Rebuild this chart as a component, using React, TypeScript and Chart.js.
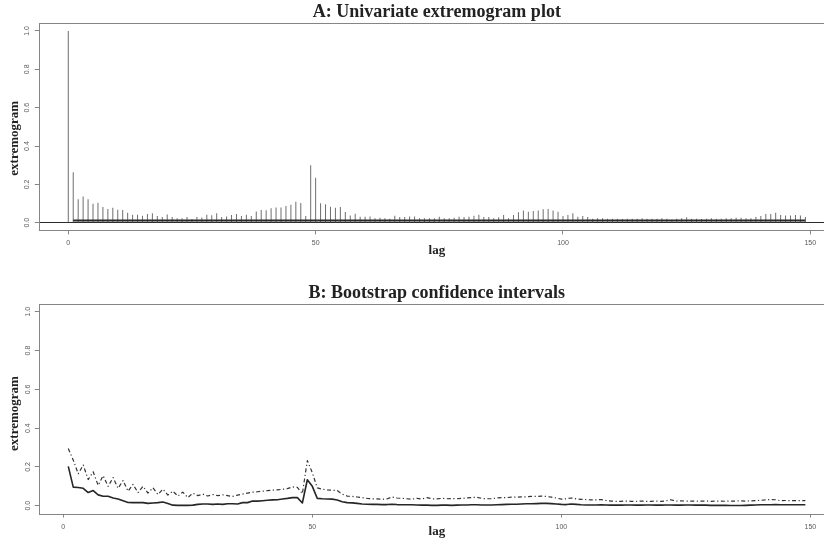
import { useEffect, useRef } from 'react';
import { Chart, registerables } from 'chart.js';

Chart.register(...registerables);

const SERIF = '"Liberation Serif", "Times New Roman", serif';
const SANS = '"Liberation Sans", Arial, sans-serif';

// Univariate extremogram estimates for lags 0..149
const EXTREMOGRAM = [
  1.0, 0.263, 0.122, 0.137, 0.122, 0.099, 0.104, 0.082, 0.071, 0.078,
  0.068, 0.066, 0.052, 0.042, 0.042, 0.037, 0.045, 0.049, 0.035, 0.030,
  0.043, 0.030, 0.023, 0.023, 0.030, 0.019, 0.030, 0.027, 0.041, 0.039,
  0.049, 0.030, 0.033, 0.040, 0.045, 0.035, 0.042, 0.035, 0.059, 0.066,
  0.065, 0.075, 0.079, 0.080, 0.087, 0.094, 0.110, 0.103, 0.035, 0.300,
  0.234, 0.101, 0.096, 0.083, 0.078, 0.082, 0.056, 0.038, 0.047, 0.031,
  0.031, 0.033, 0.024, 0.026, 0.024, 0.021, 0.037, 0.030, 0.030, 0.033,
  0.033, 0.023, 0.023, 0.024, 0.023, 0.031, 0.024, 0.023, 0.026, 0.031,
  0.030, 0.031, 0.037, 0.042, 0.030, 0.030, 0.023, 0.028, 0.040, 0.024,
  0.040, 0.054, 0.064, 0.057, 0.061, 0.064, 0.070, 0.071, 0.064, 0.057,
  0.035, 0.040, 0.050, 0.031, 0.035, 0.030, 0.021, 0.023, 0.023, 0.021,
  0.021, 0.021, 0.019, 0.021, 0.021, 0.021, 0.023, 0.021, 0.021, 0.021,
  0.023, 0.021, 0.016, 0.021, 0.023, 0.028, 0.021, 0.021, 0.019, 0.021,
  0.023, 0.021, 0.021, 0.023, 0.024, 0.026, 0.026, 0.024, 0.024, 0.030,
  0.035, 0.045, 0.045, 0.052, 0.040, 0.038, 0.038, 0.040, 0.038, 0.030,
];

// Permutation band level, drawn across lags 1..149
const BAND_LEVEL = 0.0115;
const BAND_LAGS = [1, 149];

// Bootstrap confidence interval bounds for lags 1..149
const CI_FIRST_LAG = 1;
const CI_LOWER = [
  0.203, 0.096, 0.094, 0.090, 0.068, 0.078, 0.056, 0.049, 0.049, 0.040,
  0.035, 0.026, 0.017, 0.016, 0.017, 0.016, 0.012, 0.014, 0.016, 0.019,
  0.012, 0.003, 0.002, 0.002, 0.002, 0.003, 0.007, 0.009, 0.009, 0.007,
  0.009, 0.007, 0.010, 0.010, 0.009, 0.016, 0.016, 0.024, 0.024, 0.026,
  0.028, 0.030, 0.031, 0.035, 0.038, 0.042, 0.042, 0.014, 0.134, 0.100,
  0.038, 0.036, 0.035, 0.034, 0.030, 0.021, 0.016, 0.015, 0.012, 0.009,
  0.008, 0.007, 0.007, 0.006, 0.006, 0.008, 0.006, 0.005, 0.005, 0.005,
  0.004, 0.003, 0.003, 0.002, 0.002, 0.003, 0.003, 0.002, 0.003, 0.004,
  0.004, 0.005, 0.005, 0.004, 0.004, 0.004, 0.005, 0.006, 0.007, 0.008,
  0.008, 0.009, 0.010, 0.010, 0.011, 0.012, 0.012, 0.011, 0.009, 0.007,
  0.006, 0.009, 0.007, 0.005, 0.004, 0.004, 0.004, 0.005, 0.004, 0.003,
  0.003, 0.003, 0.004, 0.004, 0.003, 0.003, 0.004, 0.004, 0.003, 0.003,
  0.004, 0.004, 0.003, 0.003, 0.004, 0.004, 0.003, 0.003, 0.003, 0.002,
  0.002, 0.002, 0.002, 0.001, 0.001, 0.001, 0.002, 0.003, 0.004, 0.005,
  0.005, 0.005, 0.006, 0.005, 0.005, 0.005, 0.005, 0.005, 0.005,
];
const CI_UPPER = [
  0.295, 0.235, 0.165, 0.210, 0.135, 0.175, 0.105, 0.155, 0.100, 0.145,
  0.090, 0.130, 0.075, 0.110, 0.068, 0.100, 0.065, 0.093, 0.058, 0.085,
  0.055, 0.075, 0.050, 0.070, 0.042, 0.065, 0.052, 0.060, 0.050, 0.058,
  0.052, 0.056, 0.052, 0.048, 0.055, 0.060, 0.065, 0.070, 0.072, 0.075,
  0.078, 0.080, 0.082, 0.085, 0.088, 0.097, 0.095, 0.062, 0.233, 0.170,
  0.092, 0.085, 0.082, 0.080, 0.078, 0.060, 0.050, 0.048, 0.045, 0.042,
  0.038, 0.036, 0.035, 0.034, 0.035, 0.045, 0.040, 0.038, 0.036, 0.034,
  0.038, 0.035, 0.042, 0.036, 0.035, 0.038, 0.036, 0.037, 0.036, 0.038,
  0.040, 0.042, 0.044, 0.038, 0.036, 0.036, 0.040, 0.042, 0.042, 0.044,
  0.044, 0.046, 0.046, 0.048, 0.048, 0.050, 0.048, 0.044, 0.040, 0.034,
  0.036, 0.040, 0.035, 0.033, 0.032, 0.030, 0.030, 0.032, 0.027, 0.024,
  0.023, 0.023, 0.024, 0.023, 0.023, 0.024, 0.023, 0.023, 0.024, 0.023,
  0.025, 0.031, 0.024, 0.025, 0.024, 0.024, 0.023, 0.024, 0.024, 0.023,
  0.024, 0.024, 0.023, 0.024, 0.024, 0.025, 0.024, 0.025, 0.026, 0.028,
  0.030, 0.032, 0.031, 0.026, 0.027, 0.026, 0.026, 0.027, 0.026,
];

const Y_TICKS = [0, 0.2, 0.4, 0.6, 0.8, 1.0];
const X_TICKS = [0, 50, 100, 150];

const TITLE_A = 'A: Univariate extremogram plot';
const TITLE_B = 'B: Bootstrap confidence intervals';
const X_LABEL = 'lag';
const Y_LABEL = 'extremogram';

const CANVAS_W = 880;
const CANVAS_H = 272;
const AXIS_GREY = '#858585';
const TEXT_GREY = '#5a5a5a';
const INK = '#222';

// R-style 4% axis expansion
function expand(lo: number, hi: number): [number, number] {
  const d = (hi - lo) * 0.04;
  return [lo - d, hi + d];
}

// Outline of the plotting region
const boxPlugin = {
  id: 'plotBox',
  beforeDatasetsDraw(chart: any) {
    const { ctx, chartArea: a } = chart;
    ctx.save();
    ctx.strokeStyle = AXIS_GREY;
    ctx.lineWidth = 1;
    ctx.strokeRect(Math.round(a.left) + 0.5, Math.round(a.top) + 0.5,
      Math.round(a.right - a.left), Math.round(a.bottom - a.top));
    ctx.restore();
  },
};

// Rotated y-axis caption
const yCaptionPlugin = {
  id: 'yCaption',
  afterDraw(chart: any, _args: any, opts: any) {
    if (!opts || !opts.text) return;
    const ctx = chart.ctx;
    ctx.save();
    ctx.translate(opts.x, opts.y);
    ctx.rotate(-Math.PI / 2);
    ctx.font = `bold 13px ${SERIF}`;
    ctx.fillStyle = INK;
    ctx.textAlign = 'center';
    ctx.textBaseline = 'middle';
    ctx.fillText(opts.text, 0, 0);
    ctx.restore();
  },
};

function yScale(zeroLine: boolean, pad: number) {
  const [min, max] = expand(0, 1);
  return {
    type: 'linear',
    min,
    max,
    afterBuildTicks: (s: any) => { s.ticks = Y_TICKS.map((v) => ({ value: v })); },
    afterFit: (s: any) => { s.width = 38.8; },
    border: { display: false },
    grid: {
      offset: false,
      drawOnChartArea: zeroLine,
      color: (c: any) => (c.tick && c.tick.value === 0 ? '#2a2a2a' : 'rgba(0,0,0,0)'),
      lineWidth: 1,
      drawTicks: true,
      tickLength: 4,
      tickColor: AXIS_GREY,
    },
    ticks: {
      font: { family: SANS, size: 7 },
      color: TEXT_GREY,
      minRotation: 90,
      maxRotation: 90,
      crossAlign: 'center',
      padding: pad,
      autoSkip: false,
      callback: (v: any) => Number(v).toFixed(1),
    },
  };
}

function xScale(lo: number, hi: number, height: number, pad: number) {
  const [min, max] = expand(lo, hi);
  return {
    type: 'linear',
    min,
    max,
    offset: false,
    afterBuildTicks: (s: any) => { s.ticks = X_TICKS.map((v) => ({ value: v })); },
    afterFit: (s: any) => { s.height = height; },
    border: { display: false },
    grid: {
      offset: false,
      drawOnChartArea: false,
      drawTicks: true,
      tickLength: 4,
      tickColor: AXIS_GREY,
    },
    ticks: {
      font: { family: SANS, size: 7 },
      color: TEXT_GREY,
      padding: pad,
      autoSkip: false,
      maxRotation: 0,
      callback: (v: any) => String(v),
    },
    title: {
      display: true,
      text: X_LABEL,
      font: { family: SERIF, size: 13, weight: 'bold' },
      color: INK,
      padding: 0,
    },
  };
}

function titleOpts(text: string, top: number, bottom: number) {
  return {
    display: true,
    text,
    fullSize: false,
    font: { family: SERIF, size: 18, weight: 'bold' },
    color: INK,
    padding: { top, bottom },
  };
}

function configA(): any {
  return {
    type: 'bar',
    data: {
      datasets: [
        {
          type: 'line',
          data: BAND_LAGS.map((x) => ({ x, y: BAND_LEVEL })),
          borderColor: '#2a2a2a',
          borderWidth: 2,
          pointRadius: 0,
          order: 1,
        },
        {
          type: 'bar',
          data: EXTREMOGRAM.map((y, x) => ({ x, y })),
          backgroundColor: '#6e6e6e',
          borderWidth: 0,
          barThickness: 1,
          inflateAmount: 0,
          order: 2,
        },
      ],
    },
    options: {
      animation: false,
      responsive: false,
      devicePixelRatio: 1,
      events: [],
      layout: { padding: { left: 0, top: 0, right: CANVAS_W - 834.85, bottom: 13.2 } },
      scales: {
        x: xScale(0, EXTREMOGRAM.length - 1, 28.4, 4.4),
        y: yScale(true, 2.6),
      },
      plugins: {
        legend: { display: false },
        tooltip: { enabled: false },
        title: titleOpts(TITLE_A, 1.4, 0.3),
        yCaption: { text: Y_LABEL, x: 15, y: 138.3 },
      },
    },
    plugins: [boxPlugin, yCaptionPlugin],
  };
}

function configB(): any {
  const last = CI_FIRST_LAG + CI_LOWER.length - 1;
  return {
    type: 'line',
    data: {
      datasets: [
        {
          data: CI_LOWER.map((y, i) => ({ x: CI_FIRST_LAG + i, y })),
          borderColor: '#262626',
          borderWidth: 1.6,
          pointRadius: 0,
          tension: 0,
          borderJoinStyle: 'round',
        },
        {
          data: CI_UPPER.map((y, i) => ({ x: CI_FIRST_LAG + i, y })),
          borderColor: '#333',
          borderWidth: 1.2,
          borderDash: [4, 2.5, 1.2, 2.5],
          pointRadius: 0,
          tension: 0,
          borderJoinStyle: 'round',
        },
      ],
    },
    options: {
      animation: false,
      responsive: false,
      devicePixelRatio: 1,
      events: [],
      layout: { padding: { left: 0, top: 0, right: CANVAS_W - 834.85, bottom: 4.1 } },
      scales: {
        x: xScale(CI_FIRST_LAG, last, 26.4, 5),
        y: yScale(false, 2.3),
      },
      plugins: {
        legend: { display: false },
        tooltip: { enabled: false },
        title: titleOpts(TITLE_B, 10.4, 0),
        yCaption: { text: Y_LABEL, x: 15, y: 141.5 },
      },
    },
    plugins: [boxPlugin, yCaptionPlugin],
  };
}

export default function App() {
  const refA = useRef<HTMLCanvasElement>(null);
  const refB = useRef<HTMLCanvasElement>(null);

  useEffect(() => {
    const a = new Chart(refA.current as HTMLCanvasElement, configA());
    const b = new Chart(refB.current as HTMLCanvasElement, configB());
    return () => {
      a.destroy();
      b.destroy();
    };
  }, []);

  return (
    <div
      style={{
        position: 'fixed',
        left: 0,
        top: 0,
        width: 824,
        height: 544,
        overflow: 'hidden',
        background: '#fff',
      }}
    >
      <canvas ref={refA} width={CANVAS_W} height={CANVAS_H} style={{ position: 'absolute', left: 0, top: 0 }} />
      <canvas ref={refB} width={CANVAS_W} height={CANVAS_H} style={{ position: 'absolute', left: 0, top: CANVAS_H }} />
    </div>
  );
}
